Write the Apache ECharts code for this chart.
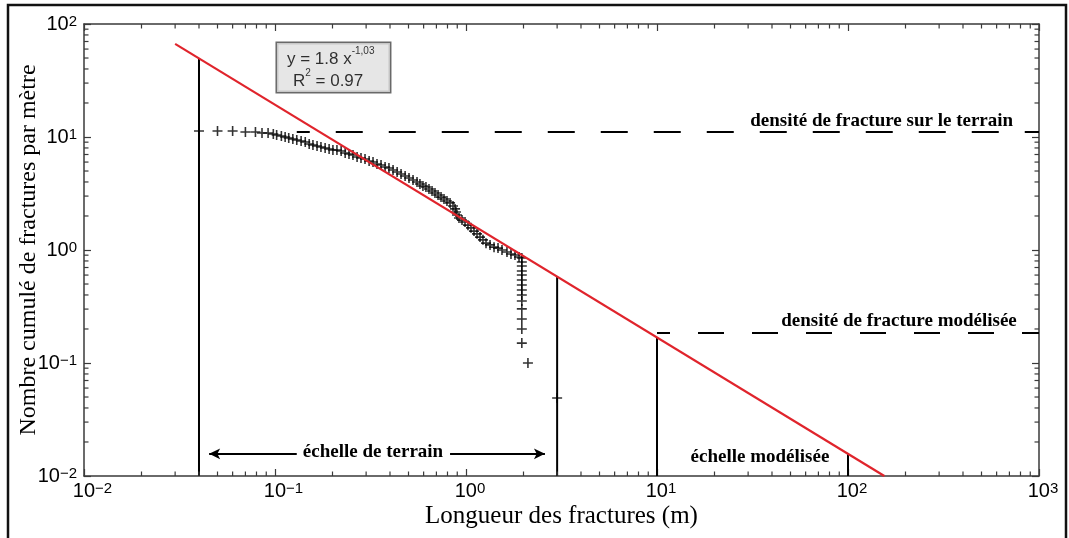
<!DOCTYPE html>
<html>
<head>
	<meta charset="utf-8"/>
	<title>Densité de fractures</title>
	<style>
		* { margin: 0; padding: 0; }
		body { background: #fff; }
		#chart { width: 1069px; height: 538px; }
	</style>
</head>
<body>
	<div id="chart"></div>
	<script src="https://cdn.jsdelivr.net/npm/echarts@6/dist/echarts.min.js"></script>
	<script>
		// longueur (m) / nombre cumulé de fractures par mètre
		var fracLength = [0.04, 0.05, 0.06, 0.07, 0.079, 0.0855, 0.092, 0.098, 0.102, 0.108,
			0.113, 0.118, 0.124, 0.130, 0.137, 0.144, 0.151, 0.158, 0.166, 0.174,
			0.183, 0.192, 0.201, 0.211, 0.222, 0.233, 0.244, 0.256, 0.269, 0.282,
			0.296, 0.311, 0.326, 0.342, 0.359, 0.377, 0.395, 0.415, 0.436, 0.457,
			0.480, 0.503, 0.528, 0.554, 0.574, 0.595, 0.617, 0.640, 0.664, 0.688,
			0.714, 0.740, 0.767, 0.795, 0.825, 0.855, 0.876, 0.886, 0.897, 0.919,
			0.953, 0.988, 1.024, 1.062, 1.101, 1.142, 1.184, 1.227, 1.273, 1.336,
			1.402, 1.471, 1.543, 1.639, 1.720, 1.805, 1.895, 1.96, 1.96, 1.96,
			1.96, 1.96, 1.96, 1.96, 1.96, 1.96, 1.96, 1.96, 1.96, 1.96,
			1.96, 2.11, 3.0];
		var cumDensity = [11.3, 11.3, 11.3, 11.07, 11.07, 10.85, 10.85, 10.63, 10.42, 10.2,
			10.0, 9.8, 9.6, 9.41, 9.22, 9.03, 8.67, 8.5, 8.32, 8.16,
			7.99, 7.83, 7.67, 7.67, 7.52, 7.22, 7.07, 6.93, 6.65, 6.52,
			6.39, 6.13, 6.01, 5.77, 5.65, 5.43, 5.32, 5.11, 4.90, 4.71,
			4.52, 4.34, 4.16, 4.00, 3.84, 3.69, 3.61, 3.47, 3.33, 3.19,
			3.07, 2.94, 2.83, 2.71, 2.61, 2.45, 2.31, 2.17, 2.04, 1.92,
			1.84, 1.77, 1.66, 1.57, 1.47, 1.39, 1.30, 1.23, 1.15, 1.11,
			1.06, 1.04, 1.00, 0.96, 0.922, 0.903, 0.867, 0.849, 0.783, 0.722,
			0.652, 0.601, 0.543, 0.490, 0.443, 0.400, 0.354, 0.301, 0.245, 0.200,
			0.150, 0.10, 0.049];

		// loi puissance y = 1.8 x^-1.03 (extrémités)
		var fitLength = [0.03, 155];
		var fitDensity = [66.7, 0.01];

		// traits verticaux (échelles)
		var scaleLength = [0.04, 3, 10, 100];
		var scaleTop = [49.7, 0.58, 0.168, 0.0157];

		// densités horizontales
		var fieldDensity = 11.07, fieldFrom = 0.13;
		var modelDensity = 0.184, modelFrom = 10;

		// flèches "échelle de terrain"
		var arrowY = 0.0157;
		var arrowLeft = [0.13, 0.0452];
		var arrowRight = [0.825, 2.59];

		var X_MIN = 0.01, X_MAX = 1000, Y_MIN = 0.01, Y_MAX = 100;
		var xDecades = [-2, -1, 0, 1, 2];
		var yDecades = [-2, -1, 0, 1];

		var sans = '"Liberation Sans", Arial, Helvetica, sans-serif';
		var serif = '"Liberation Serif", "Times New Roman", serif';
		var axisColor = '#3a3a3a';

		function supLabel(v, pad) {
			var e = Math.round(Math.log(v) / Math.LN10);
			var s = e < 0 ? '\u2212' + (-e) : '' + e;
			var p = pad ? (s.length > 1 ? '{p2|}' : '{p1|}') : '';
			return p + '{b|10}{s|' + s + '}';
		}
		var supStyle = { fontSize: 15, lineHeight: 15, verticalAlign: 'top', padding: [0, 0, 9, 0], fontFamily: sans, color: '#000' };
		var baseStyle = { fontSize: 20, lineHeight: 20, verticalAlign: 'bottom', fontFamily: sans, color: '#000' };
		var richX = { p1: { width: 8 }, p2: { width: 17 }, b: baseStyle, s: supStyle };
		var richY = { b: baseStyle, s: supStyle };

		var minorX = [], minorY = [];
		xDecades.forEach(function (k) { for (var d = 2; d <= 9; d++) minorX.push(d * Math.pow(10, k)); });
		yDecades.forEach(function (k) { for (var d = 2; d <= 9; d++) minorY.push(d * Math.pow(10, k)); });

		function lineSeries(name, xs, ys, style) {
			return {
				name: name, type: 'line', showSymbol: false, silent: true,
				data: xs.map(function (x, i) { return [x, ys[i]]; }),
				lineStyle: style, z: 3
			};
		}

		var series = [];

		// nuage de points (+)
		series.push({
			type: 'scatter',
			symbol: 'path://M0,4.2H10V5.8H0ZM4.2,0H5.8V10H4.2Z',
			symbolSize: 10,
			itemStyle: { color: '#000' },
			data: fracLength.map(function (x, i) { return [x, cumDensity[i]]; }),
			z: 2
		});

		// traits verticaux
		scaleLength.forEach(function (x, i) {
			series.push(lineSeries('v' + i, [x, x], [Y_MIN, scaleTop[i]], { color: '#000', width: 2 }));
		});

		// lignes pointillées
		series.push(lineSeries('terrain', [fieldFrom, X_MAX], [fieldDensity, fieldDensity],
			{ color: '#000', width: 2, type: [27, 26], dashOffset: 14 }));
		series.push(lineSeries('modele', [modelFrom, X_MAX], [modelDensity, modelDensity],
			{ color: '#000', width: 2, type: [26, 28], dashOffset: 13 }));

		// droite de régression
		series.push(lineSeries('fit', fitLength, fitDensity, { color: '#e0242c', width: 2.2 }));

		// flèches
		series.push({
			type: 'line', data: [], silent: true,
			markLine: {
				silent: true, symbol: ['none', 'arrow'], symbolSize: [8, 11],
				label: { show: false },
				lineStyle: { color: '#000', width: 2, type: 'solid' },
				data: [
					[{ coord: [arrowLeft[0], arrowY] }, { coord: [arrowLeft[1], arrowY] }],
					[{ coord: [arrowRight[0], arrowY] }, { coord: [arrowRight[1], arrowY] }]
				]
			}
		});

		// graduations secondaires (log)
		series.push({
			type: 'custom', silent: true, clip: false, z: 5,
			data: [[1, 1]],
			renderItem: function (params, api) {
				var ch = [];
				var st = { stroke: axisColor, lineWidth: 1.2 };
				var L = 4.5;
				minorX.forEach(function (v) {
					var b = api.coord([v, Y_MIN]), t = api.coord([v, Y_MAX]);
					ch.push({ type: 'line', shape: { x1: b[0], y1: b[1], x2: b[0], y2: b[1] - L }, style: st });
					ch.push({ type: 'line', shape: { x1: t[0], y1: t[1], x2: t[0], y2: t[1] + L }, style: st });
				});
				minorY.forEach(function (v) {
					var l = api.coord([X_MIN, v]), r = api.coord([X_MAX, v]);
					ch.push({ type: 'line', shape: { x1: l[0], y1: l[1], x2: l[0] + L, y2: l[1] }, style: st });
					ch.push({ type: 'line', shape: { x1: r[0], y1: r[1], x2: r[0] - L, y2: r[1] }, style: st });
				});
				return { type: 'group', children: ch };
			}
		});

		// annotations
		var boldText = { fontFamily: serif, fontWeight: 'bold', fontSize: 19, color: '#000', textBorderWidth: 0, opacity: 1 };
		function note(x, y, text, style) {
			return { value: [x, y], label: Object.assign({ show: true, position: 'inside', formatter: text }, style) };
		}
		series.push({
			type: 'scatter', symbolSize: 1, silent: true, z: 6,
			itemStyle: { color: 'rgba(0,0,0,0)' },
			data: [
				note(150, 13.9, 'densité de fracture sur le terrain', boldText),
				note(185, 0.2355, 'densité de fracture modélisée', boldText),
				note(0.326, 0.0163, 'échelle de terrain', boldText),
				note(34.6, 0.0147, 'échelle modélisée', boldText),
				note(0.1024, 41.2, '{t|y = 1.8 x}{e|-1,03}\n{i|}{t|R}{e|2}{t| = 0.97}', {
					backgroundColor: '#e0e0e0', borderColor: '#444', borderWidth: 1.5,
					padding: [3, 10, 2, 10], width: 93, align: 'left', textBorderWidth: 0,
					rich: {
						t: { fontFamily: sans, fontSize: 17, lineHeight: 22, color: '#000', verticalAlign: 'bottom' },
						e: { fontFamily: sans, fontSize: 10, lineHeight: 10, color: '#000', verticalAlign: 'top', padding: [0, 0, 8, 0] },
						i: { width: 6 }
					}
				})
			]
		});

		var baseX = {
			type: 'log', logBase: 10, min: X_MIN, max: X_MAX, gridIndex: 0,
			splitLine: { show: false },
			axisLine: { lineStyle: { color: axisColor, width: 1.5 } },
			axisTick: { inside: true, length: 7, lineStyle: { color: axisColor, width: 1.2 } }
		};
		var baseY = {
			type: 'log', logBase: 10, min: Y_MIN, max: Y_MAX, gridIndex: 0,
			splitLine: { show: false },
			axisLine: { lineStyle: { color: axisColor, width: 1.5 } },
			axisTick: { inside: true, length: 7, lineStyle: { color: axisColor, width: 1.2 } }
		};

		var myChart = echarts.init(document.getElementById('chart'));
		myChart.setOption({
			animation: false,
			backgroundColor: '#fff',
			grid: { left: 84, right: 30, top: 24, bottom: 62, containLabel: false, outerBoundsMode: 'none' },
			graphic: [{
				type: 'rect', silent: true,
				shape: { x: 8, y: 5, width: 1058, height: 560 },
				style: { fill: 'none', stroke: '#111', lineWidth: 2.5 }
			}],
			xAxis: [
				Object.assign({}, baseX, {
					position: 'bottom',
					name: 'Longueur des fractures (m)', nameLocation: 'middle', nameGap: 28, nameMoveOverlap: false,
					nameTextStyle: { fontFamily: serif, fontSize: 25, color: '#000' },
					axisLabel: { margin: 5, formatter: function (v) { return supLabel(v, true); }, rich: richX }
				}),
				Object.assign({}, baseX, { position: 'top', axisLabel: { show: false } })
			],
			yAxis: [
				Object.assign({}, baseY, {
					position: 'left',
					name: 'Nombre cumulé de fractures par mètre', nameLocation: 'middle', nameGap: 43, nameMoveOverlap: false,
					nameTextStyle: { fontFamily: serif, fontSize: 24, color: '#000' },
					axisLabel: { margin: 7, formatter: function (v) { return supLabel(v, false); }, rich: richY }
				}),
				Object.assign({}, baseY, { position: 'right', axisLabel: { show: false } })
			],
			series: series
		});
	</script>
</body>
</html>
